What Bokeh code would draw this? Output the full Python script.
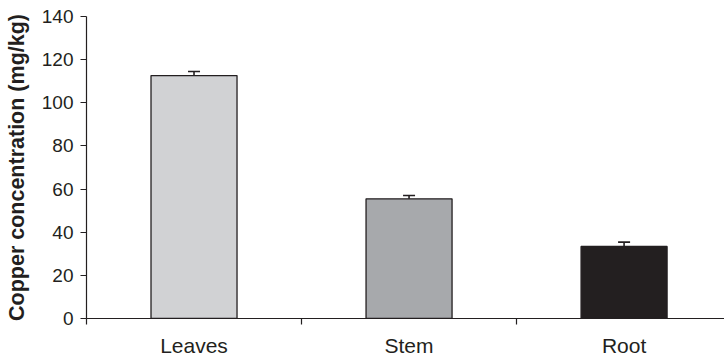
from bokeh.plotting import figure
from bokeh.models import ColumnDataSource, Range1d, FixedTicker, Whisker
from bokeh.embed import file_html
from bokeh.resources import INLINE

# Copper concentration by plant organ
organs = ["Leaves", "Stem", "Root"]
copper = [112.6, 55.5, 33.4]
copper_se = [1.9, 1.5, 2.0]
bar_colors = ["#d1d2d4", "#a7a9ac", "#231f20"]

ink = "#231f20"
xpos = [i + 0.5 for i in range(len(organs))]

src = ColumnDataSource(dict(
    x=xpos, top=copper, color=bar_colors,
    upper=[v + e for v, e in zip(copper, copper_se)],
    lower=[v - e for v, e in zip(copper, copper_se)],
))

p = figure(width=724, height=359, output_backend="svg", toolbar_location=None,
           x_range=Range1d(0, 2.967), y_range=Range1d(0, 140),
           min_border_left=86, min_border_right=0, min_border_top=16, min_border_bottom=40)
p.outline_line_color = None
p.grid.visible = False
p.background_fill_color = "white"
p.border_fill_color = "white"

p.vbar(x="x", top="top", width=0.4, bottom=0, source=src, fill_color="color",
       line_color=ink, line_width=1.3)

wh = Whisker(base="x", upper="upper", lower="lower", source=src, line_color=ink,
             line_width=1.6)
for head in (wh.upper_head, wh.lower_head):
    head.size = 12
    head.line_color = ink
    head.line_width = 1.6
p.add_layout(wh)

# y axis
p.yaxis.ticker = FixedTicker(ticks=list(range(0, 141, 20)))
p.yaxis.axis_line_color = ink
p.yaxis.axis_line_width = 1.2
p.yaxis.major_tick_line_color = ink
p.yaxis.major_tick_in = 0
p.yaxis.major_tick_out = 6
p.yaxis.minor_tick_line_color = None
p.yaxis.major_label_text_font = "Liberation Sans"
p.yaxis.major_label_text_font_size = "19px"
p.yaxis.major_label_text_color = ink
p.yaxis.major_label_standoff = 7
p.yaxis.axis_label = "Copper concentration (mg/kg)"
p.yaxis.axis_label_text_font = "Liberation Sans"
p.yaxis.axis_label_text_font_style = "bold"
p.yaxis.axis_label_text_font_size = "21.5px"
p.yaxis.axis_label_text_color = ink
p.yaxis.axis_label_standoff = 10

# x axis: names at category centers, tick marks at category boundaries
p.xaxis.ticker = FixedTicker(ticks=xpos, minor_ticks=[0, 1, 2])
p.xaxis.major_label_overrides = {x: name for x, name in zip(xpos, organs)}
p.xaxis.axis_line_color = ink
p.xaxis.axis_line_width = 1.2
p.xaxis.major_tick_line_color = None
p.xaxis.major_tick_in = 0
p.xaxis.major_tick_out = 0
p.xaxis.minor_tick_line_color = ink
p.xaxis.minor_tick_line_width = 1.2
p.xaxis.minor_tick_in = 0
p.xaxis.minor_tick_out = 6
p.xaxis.major_label_text_font = "Liberation Sans"
p.xaxis.major_label_text_font_size = "21px"
p.xaxis.major_label_text_color = ink
p.xaxis.major_label_standoff = 9

open("out.html", "w").write(file_html(p, INLINE))
